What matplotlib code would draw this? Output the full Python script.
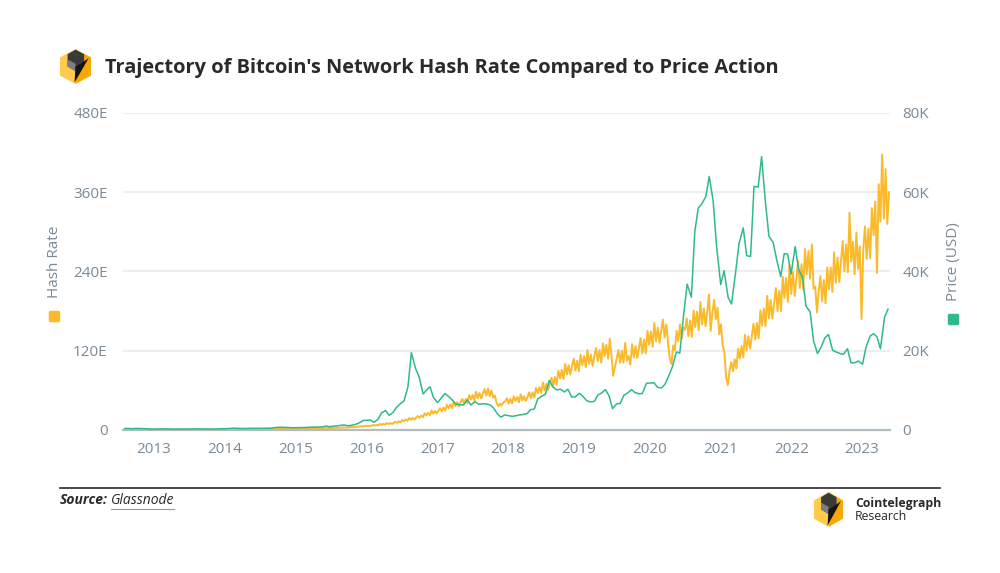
import numpy as np
import pandas as pd
import matplotlib
matplotlib.use('Agg')
import matplotlib.pyplot as plt
from matplotlib.patches import Polygon
from matplotlib.lines import Line2D
from matplotlib.markers import MarkerStyle

plt.rcParams['font.family'] = ['Open Sans', 'DejaVu Sans']

# price: semi-monthly samples (1st and 15th), Oct 2014 - Apr 2023
price_dates = pd.date_range('2014-10-01', periods=206, freq='SMS')
price_usd = [
    380, 395, 325, 390, 380, 345,
    315, 210, 225, 235, 260, 285, 245, 220, 235, 237, 225, 237,
    258, 285, 280, 260, 228, 230, 237, 255, 325, 320, 375, 455,
    430, 380, 370, 405, 430, 415, 417, 430, 450, 455, 535, 690,
    675, 665, 610, 570, 575, 607, 615, 640, 730, 710, 755, 780,
    1000, 820, 990, 1010, 1190, 1250, 1080, 1180, 1420, 1770, 2400, 2450,
    2500, 1930, 2720, 4300, 4900, 3700, 4400, 5700, 6700, 7300, 10900, 19500,
    15500, 13500, 9100, 10100, 10900, 8200, 6900, 8000, 9200, 8500, 7500, 6500,
    6350, 6300, 7600, 6300, 7200, 6500, 6600, 6600, 6350, 5600, 4100, 3250,
    3800, 3600, 3450, 3600, 3800, 3900, 4100, 5100, 5300, 7900, 8550, 9000,
    12500, 10900, 10100, 10300, 9600, 10300, 8300, 8350, 9250, 8500, 7400, 7100,
    7200, 8800, 9400, 10200, 8600, 5400, 6600, 6650, 8800, 9300, 10200, 9450,
    9150, 9200, 11800, 11850, 11900, 10800, 10600, 11500, 13800, 16000, 19700, 19400,
    29400, 36800, 33500, 50000, 56000, 57000, 58900, 64000, 57800, 46400, 36700, 40200,
    33500, 31800, 39900, 47100, 51000, 44000, 43800, 61500, 61300, 69000, 57200, 48900,
    47300, 43100, 38700, 44500, 44400, 39300, 46300, 40500, 38500, 31300, 29800, 22500,
    19300, 20800, 23300, 24100, 20100, 19700, 19300, 19100, 20500, 16900, 17000, 17400,
    16600, 20900, 23700, 24300, 23500, 20500, 28500, 30500,
]

# hash rate: weekly samples, 2014-10-01 - 2023-04-19 (EH/s)
hash_dates = pd.date_range('2014-10-01', '2023-04-19', freq='7D')
hash_rate_eh = [
    # 2014
    0.26, 0.28, 0.27, 0.29, 0.28, 0.30, 0.29, 0.31, 0.30, 0.31, 0.32, 0.30, 0.33, 0.32,
    # 2015
    0.33, 0.34, 0.32, 0.35, 0.34, 0.36, 0.35, 0.34, 0.36, 0.37, 0.35, 0.37, 0.36,
    0.38, 0.36, 0.38, 0.37, 0.39, 0.38, 0.40, 0.39, 0.38, 0.40, 0.41, 0.39, 0.41,
    0.42, 0.40, 0.43, 0.44, 0.42, 0.45, 0.47, 0.45, 0.48, 0.50, 0.49, 0.52, 0.54,
    0.53, 0.56, 0.58, 0.57, 0.61, 0.64, 0.66, 0.70, 0.72, 0.75, 0.78, 0.80, 0.84,
    # 2016
    0.86, 0.92, 0.95, 1.0, 1.05, 1.1, 1.08, 1.15, 1.2, 1.18, 1.25, 1.3, 1.28,
    1.35, 1.33, 1.4, 1.45, 1.42, 1.5, 1.48, 1.55, 1.6, 1.58, 1.65, 1.62, 1.7,
    1.5, 1.55, 1.6, 1.58, 1.65, 1.7, 1.68, 1.75, 1.8, 1.78, 1.85, 1.9, 1.95,
    1.9, 2.0, 2.05, 2.1, 2.15, 2.1, 2.2, 2.3, 2.25, 2.4, 2.5, 2.45, 2.6,
    # 2017
    2.7, 3.1, 2.6, 3.2, 2.7, 3.6, 3.1, 3.7, 3.2, 4.1, 3.4, 4.0, 3.5,
    4.0, 4.6, 4.0, 4.8, 4.2, 5.6, 4.9, 5.8, 5.0, 6.6, 5.6, 6.6, 5.7,
    6.6, 7.6, 6.6, 7.9, 6.9, 9.1, 8.0, 9.4, 8.1, 10.6, 8.9, 10.5, 9.1,
    10.6, 12.3, 10.7, 13.0, 11.4, 15.2, 13.5, 16.0, 13.9, 18.2, 15.4, 18.2, 15.8,
    # 2018
    18.5, 21.2, 18.3, 21.9, 19.1, 25.2, 22.1, 26.0, 22.4, 29.3, 24.6, 28.9, 25.0,
    29, 33, 28, 34, 29, 38, 33, 39, 33, 43, 36, 42, 36,
    42, 47, 40, 47, 40, 53, 46, 53, 45, 58, 48, 56, 48,
    55, 62, 52, 63, 51, 60, 49, 52, 41, 36, 40, 37, 42,
    # 2019
    43, 48, 40, 47, 40, 51, 44, 50, 42, 54, 45, 51, 44,
    50, 57, 48, 57, 49, 64, 56, 65, 56, 72, 60, 70, 61,
    70, 79, 67, 80, 69, 90, 78, 91, 77, 100, 84, 98, 84,
    97, 108, 90, 105, 89, 114, 98, 112, 95, 121, 100, 114, 97,
    # 2020
    112, 124, 104, 121, 102, 131, 112, 129, 108, 138, 112, 82, 96,
    108, 121, 102, 120, 102, 132, 105, 112, 99, 130, 110, 127, 109,
    124, 139, 116, 137, 116, 150, 129, 149, 126, 162, 134, 155, 132,
    150, 167, 140, 160, 132, 108, 100, 128, 121, 150, 134, 160, 138, 155,
    # 2021
    152, 169, 142, 166, 141, 181, 156, 179, 151, 194, 160, 184, 157,
    180, 205, 150, 178, 197, 168, 185, 145, 160, 128, 118, 80, 68,
    90, 103, 89, 107, 93, 123, 108, 127, 110, 144, 121, 142, 123,
    142, 161, 137, 162, 139, 181, 158, 184, 157, 203, 169, 197, 169,
    # 2022
    192, 215, 180, 211, 180, 232, 200, 230, 194, 250, 206, 239, 203,
    230, 256, 215, 251, 213, 274, 236, 271, 229, 281, 214, 217, 178,
    210, 233, 195, 227, 192, 246, 213, 246, 209, 269, 223, 261, 224,
    256, 286, 240, 281, 239, 329, 255, 285, 236, 299, 244, 278, 168,
    # 2023
    275, 308, 259, 305, 260, 336, 295, 346, 238, 372, 316, 417, 320, 395, 312, 360,
]

year_labels = ['2013', '2014', '2015', '2016', '2017', '2018',
               '2019', '2020', '2021', '2022', '2023']
hash_ticks = [0, 120, 240, 360, 480]
hash_tick_labels = ['0', '120E', '240E', '360E', '480E']
price_ticks = [0, 20000, 40000, 60000, 80000]
price_tick_labels = ['0', '20K', '40K', '60K', '80K']

YELLOW = '#FBBA2B'
GREEN = '#2FB98D'
TICK = '#7B8A97'


def dec_year(d):
    return d.year + (d.dayofyear - 1) / 365.25


fig = plt.figure(figsize=(10, 5.73), dpi=100)
ax = fig.add_axes([0.123, 0.2496, 0.767, 0.5532])
ax2 = ax.twinx()

ax.plot(dec_year(hash_dates), hash_rate_eh, color=YELLOW, lw=1.4)
ax2.plot(dec_year(price_dates), price_usd, color=GREEN, lw=1.1)

ax.set_xlim(2014.727, 2023.307)
ax.set_ylim(0, 480)
ax2.set_ylim(0, 80000)

# axis labels of the source chart are spread evenly, not on year starts
ax.set_xticks(np.linspace(2015.074, 2022.994, len(year_labels)))
ax.set_xticklabels(year_labels)
ax.set_yticks(hash_ticks)
ax.set_yticklabels(hash_tick_labels)
ax2.set_yticks(price_ticks)
ax2.set_yticklabels(price_tick_labels)

ax.grid(axis='y', color='#EEEEEE', lw=1.5)
ax.set_axisbelow(True)
for a in (ax, ax2):
    for s in a.spines.values():
        s.set_visible(False)
ax.spines['bottom'].set_visible(True)
ax.spines['bottom'].set_color('#B3BCC1')
ax.spines['bottom'].set_linewidth(1.6)
ax.tick_params(axis='y', length=0, pad=11, labelsize=11, labelcolor=TICK)
ax.tick_params(axis='x', length=0, pad=9, labelsize=11, labelcolor=TICK)
ax2.tick_params(axis='y', length=0, pad=9, labelsize=11, labelcolor=TICK)

# axis titles with coloured dots
fig.text(0.055, 1 - 262 / 573, 'Hash Rate', rotation=90, ha='center', va='center',
         fontsize=11, color=TICK)
fig.text(0.953, 1 - 262 / 573, 'Price (USD)', rotation=90, ha='center', va='center',
         fontsize=11, color=TICK)
for x, y, c in [(0.054, 1 - 316 / 573, YELLOW), (0.953, 1 - 319 / 573, GREEN)]:
    fig.add_artist(Line2D([x], [y], transform=fig.transFigure,
                          marker=MarkerStyle('s', joinstyle='round'), ms=6,
                          mew=2.5, color=c, mec=c))


def draw_logo(x0, y0, w, h):
    la = fig.add_axes([x0, y0, w, h])
    la.set_xlim(0, 1)
    la.set_ylim(0, 1)
    la.axis('off')
    la.add_patch(Polygon([(0.5, 1), (0.03, 0.76), (0.03, 0.24), (0.5, 0)], color='#FFCB4F', lw=0))
    la.add_patch(Polygon([(0.5, 1), (0.97, 0.76), (0.97, 0.24), (0.5, 0)], color='#F8A800', lw=0))
    la.add_patch(Polygon([(0.5, 0.98), (0.76, 0.85), (0.76, 0.5), (0.5, 0.37),
                          (0.26, 0.5), (0.26, 0.85)], color='#3A3A3A', lw=0))
    la.add_patch(Polygon([(0.26, 0.7), (0.5, 0.58), (0.5, 0.37), (0.26, 0.5)], color='#7E7E7E', lw=0))
    la.add_patch(Polygon([(0.9, 0.74), (0.47, 0.04), (0.5, 0.5), (0.62, 0.56)], color='#161616', lw=0))


# header
draw_logo(59 / 1000, 1 - 84 / 573, 33 / 1000, 35 / 573)
fig.text(0.105, 1 - 68 / 573, "Trajectory of Bitcoin's Network Hash Rate Compared to Price Action",
         ha='left', va='center', fontsize=14.4, fontweight='bold', color='#2A2A2A')

# footer
fig.add_artist(Line2D([0.06, 0.94], [1 - 488 / 573] * 2, transform=fig.transFigure,
                      color='#2A2A2A', lw=1.2))
renderer = fig.canvas.get_renderer()
src = fig.text(0.06, 1 - 500 / 573, 'Source:', ha='left', va='center', fontsize=10,
               fontweight='bold', fontstyle='italic', color='#2A2A2A')
bb = src.get_window_extent(renderer)
gx = bb.x1 / fig.bbox.width + 0.003
gl = fig.text(gx, 1 - 500 / 573, 'Glassnode', ha='left', va='center', fontsize=10,
              fontstyle='italic', color='#2A2A2A')
gb = gl.get_window_extent(renderer)
uy = (gb.y0 - 1) / fig.bbox.height
fig.add_artist(Line2D([gb.x0 / fig.bbox.width, gb.x1 / fig.bbox.width], [uy, uy],
                      transform=fig.transFigure, color='#9A9A9A', lw=0.8))

draw_logo(813 / 1000, 1 - 527 / 573, 31 / 1000, 35 / 573)
fig.text(0.855, 1 - 503 / 573, 'Cointelegraph', ha='left', va='center', fontsize=8.8,
         fontweight='bold', color='#2A2A2A')
fig.text(0.855, 1 - 516 / 573, 'Research', ha='left', va='center', fontsize=8.8,
         color='#2A2A2A')

fig.savefig('out.png', dpi=100)
